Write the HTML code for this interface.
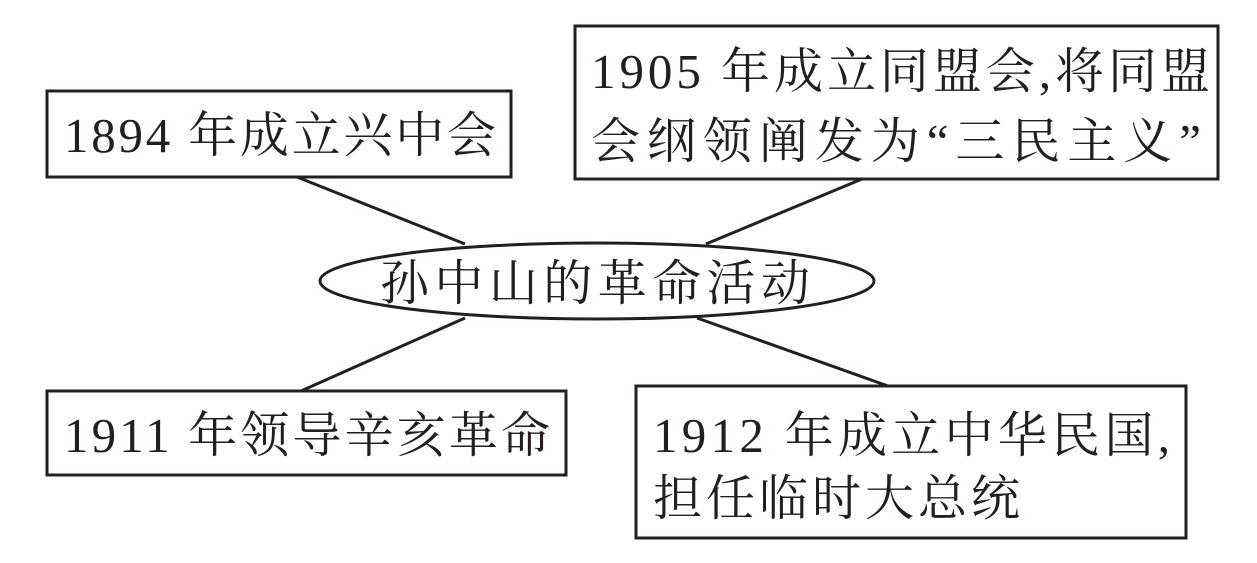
<!DOCTYPE html>
<html><head><meta charset="utf-8"><style>
html,body{margin:0;padding:0;background:#fff;}
svg{display:block}
text{font-family:"Liberation Serif","Noto Serif CJK SC",serif;font-size:49px;fill:#231f20}
</style></head><body>
<svg width="1257" height="563" viewBox="0 0 1257 563" xmlns="http://www.w3.org/2000/svg">
<g stroke="#231f20" stroke-width="3" fill="none">
<rect x="47" y="91" width="464" height="86"/>
<rect x="575" y="26" width="643" height="153"/>
<rect x="47" y="391" width="519" height="84"/>
<rect x="636" y="386" width="550" height="152"/>
<ellipse cx="597" cy="281" rx="277" ry="38"/>
<line x1="297" y1="177" x2="465" y2="244"/>
<line x1="862" y1="179" x2="706" y2="244"/>
<line x1="301" y1="391" x2="465" y2="318"/>
<line x1="697" y1="318" x2="888" y2="386"/>
</g>
<text x="64" y="152" textLength="432" lengthAdjust="spacing">1894 年成立兴中会</text>
<text x="591" y="88" textLength="619" lengthAdjust="spacing">1905 年成立同盟会,将同盟</text>
<text x="591" y="158" textLength="610" lengthAdjust="spacing">会纲领阐发为“三民主义”</text>
<text x="380" y="300" textLength="430" lengthAdjust="spacing">孙中山的革命活动</text>
<text x="64" y="452" textLength="486" lengthAdjust="spacing">1911 年领导辛亥革命</text>
<text x="653" y="452" textLength="517" lengthAdjust="spacing">1912 年成立中华民国,</text>
<text x="653" y="515" textLength="367" lengthAdjust="spacing">担任临时大总统</text>
</svg>
</body></html>
